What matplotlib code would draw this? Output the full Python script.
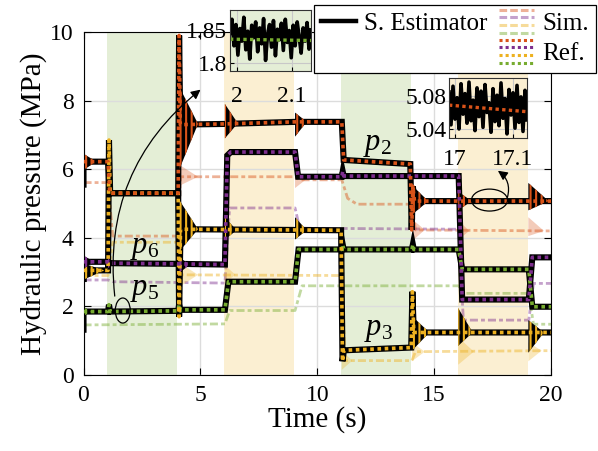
import numpy as np
import matplotlib
matplotlib.use("Agg")
import matplotlib.pyplot as plt
from matplotlib.patches import Ellipse, FancyArrowPatch
from matplotlib.legend_handler import HandlerBase
from matplotlib.lines import Line2D

plt.rcParams["font.family"] = "Liberation Serif"
plt.rcParams["mathtext.fontset"] = "custom"
plt.rcParams["mathtext.it"] = "Liberation Serif:italic"
plt.rcParams["mathtext.rm"] = "Liberation Serif"
plt.rcParams["hatch.linewidth"] = 1.5

# ===================== DATA =====================
C2, C3, C5, C6 = "#D95319", "#EDB120", "#77AC30", "#7E2F8E"
GREEN_BG, YELLOW_BG = "#e4eed6", "#fbefd2"

green_spans = [(1, 4), (11, 14)]
yellow_spans = [(6, 9), (16, 19)]

# reference (and estimator) paths
p2_t = [0, 1.05, 1.12, 4.05, 4.09, 4.14, 6.05, 9.05, 11.05, 11.13, 13.98, 14.04, 14.09, 14.16, 20]
p2_v = [6.22, 6.22, 5.30, 5.30, 9.90, 7.30, 7.32, 7.38, 7.38, 6.27, 6.15, 4.23, 5.50, 5.07, 5.07]
p3_t = [0, 1.05, 1.09, 1.14, 4.05, 4.09, 4.15, 11.02, 11.08, 11.14, 14.02, 14.07, 14.13, 20]
p3_v = [3.05, 3.05, 6.85, 5.30, 5.30, 1.70, 4.25, 4.22, 0.40, 0.72, 0.80, 2.43, 1.24, 1.24]
p5_t = [0, 1.05, 1.09, 1.14, 4.05, 4.09, 4.14, 6.05, 6.2, 9.05, 9.2, 11.05, 11.09, 11.13,
        14.05, 14.09, 14.13, 16.05, 16.2, 19.05, 19.2, 20]
p5_v = [1.85, 1.85, 2.05, 1.85, 1.87, 2.05, 1.90, 1.90, 2.72, 2.72, 3.66, 3.66, 3.80, 3.66,
        3.66, 3.80, 3.66, 3.66, 3.08, 3.08, 1.99, 1.99]
p6_t = [0, 1.05, 1.15, 4.05, 6.05, 6.15, 6.3, 9.05, 9.18, 11.05, 11.09, 11.13, 16.05, 16.2, 19.05, 19.2, 20]
p6_v = [3.30, 3.30, 3.26, 3.24, 3.22, 6.40, 6.50, 6.50, 5.78, 5.78, 5.93, 5.80, 5.80, 2.20, 2.20, 3.43, 3.43]

# estimator start values (t = 0)
est0 = {"p2": 5.55, "p3": 2.80, "p5": 1.32, "p6": 2.80}

# oscillation bursts: (t0, t1, high, low, settle)
p2_osc = [(0.0, 0.55, 6.45, 5.98, 6.22), (4.1, 4.9, 8.4, 6.0, 7.32), (6.05, 6.6, 7.9, 6.9, 7.34),
          (9.05, 9.55, 7.65, 6.95, 7.38), (14.1, 14.75, 5.5, 4.7, 5.07),
          (16.03, 16.6, 5.35, 4.8, 5.07), (19.03, 19.9, 5.6, 4.8, 5.07)]
p3_osc = [(0.0, 0.9, 3.25, 2.78, 3.05), (4.1, 4.9, 5.1, 3.6, 4.25), (6.05, 6.55, 4.6, 3.95, 4.22),
          (9.05, 9.55, 4.6, 3.95, 4.22), (14.08, 14.8, 1.7, 0.73, 1.24),
          (16.03, 16.65, 1.95, 0.85, 1.24), (19.03, 19.7, 1.6, 0.65, 1.24)]
p5_osc = [(0.0, 0.35, 1.98, 1.72, 1.85), (4.05, 4.4, 2.02, 1.78, 1.90)]
p6_osc = [(0.0, 0.45, 3.48, 3.10, 3.30), (1.05, 1.4, 3.40, 3.12, 3.26), (4.05, 4.55, 3.45, 2.95, 3.22)]

# simulation paths
p2s_t = [0, 1.05, 1.25, 4.05, 4.15, 9.05, 9.25, 11.05, 11.3, 11.7, 14.05, 14.2, 20]
p2s_v = [5.61, 5.61, 4.05, 4.05, 5.78, 5.78, 5.69, 5.69, 5.15, 4.98, 4.98, 4.23, 4.20]
p3s_t = [0, 1.05, 1.25, 4.05, 4.15, 11.05, 11.2, 14.05, 14.2, 20]
p3s_v = [2.90, 2.90, 3.87, 3.87, 2.92, 2.90, 0.42, 0.42, 0.68, 0.71]
p5s_t = [0, 6.05, 6.25, 9.05, 9.35, 16.05, 16.25, 19.05, 19.25, 20]
p5s_v = [1.46, 1.49, 1.88, 1.88, 2.60, 2.60, 2.38, 2.38, 1.48, 1.48]
p6s_t = [0, 1.05, 1.25, 6.05, 6.25, 9.05, 9.25, 16.05, 16.25, 19.05, 19.25, 20]
p6s_v = [2.77, 2.77, 2.72, 2.68, 4.87, 4.87, 4.28, 4.25, 1.60, 1.60, 2.67, 2.67]

p2s_osc = [(4.05, 4.9, 6.15, 5.5, 5.78), (9.05, 9.5, 6.0, 5.45, 5.69), (14.05, 14.6, 4.55, 3.9, 4.23),
           (16.05, 16.5, 4.5, 3.95, 4.2), (19.03, 19.7, 4.6, 4.05, 4.2)]
p3s_osc = [(4.05, 4.9, 3.3, 2.55, 2.92), (6.05, 6.5, 3.2, 2.7, 2.92), (11.05, 11.5, 0.7, 0.15, 0.42),
           (14.05, 14.6, 0.95, 0.4, 0.68), (16.03, 16.7, 1.1, 0.3, 0.68), (19.03, 19.6, 0.95, 0.4, 0.71)]

# zoomed insets
ins1_x = (1.987, 2.135)
ins1_y = (1.788, 1.880)
ins1_ref = [1.836, 1.834]
ins1_est = [1.845, 1.866, 1.826, 1.858, 1.812, 1.852, 1.833, 1.869, 1.820, 1.848, 1.806, 1.857,
            1.838, 1.862, 1.817, 1.853, 1.829, 1.867, 1.804, 1.843, 1.858, 1.824, 1.864, 1.811,
            1.851, 1.835, 1.860, 1.819, 1.866, 1.831, 1.849, 1.808, 1.857, 1.826, 1.862, 1.840,
            1.815, 1.853, 1.833, 1.861, 1.821, 1.850]
ins2_x = (16.99, 17.124)
ins2_y = (5.029, 5.102)
ins2_ref = [5.069, 5.061]
ins2_est = [5.085, 5.045, 5.092, 5.052, 5.078, 5.040, 5.095, 5.058, 5.083, 5.047, 5.097, 5.050,
            5.075, 5.038, 5.090, 5.055, 5.086, 5.042, 5.094, 5.060, 5.072, 5.036, 5.089, 5.049,
            5.081, 5.044, 5.096, 5.053, 5.077, 5.034, 5.088, 5.057, 5.084, 5.041, 5.093, 5.048,
            5.079, 5.037, 5.087, 5.051]
# =================================================

SIM_LS = (0, (2.9, 1.1, 1.4, 1.1))


class StackedLines(HandlerBase):
    def __init__(self, colors, ls, lw, alpha=1.0):
        super().__init__()
        self.colors, self.ls, self.lw, self.alpha = colors, ls, lw, alpha

    def create_artists(self, legend, orig_handle, xdescent, ydescent,
                       width, height, fontsize, trans):
        out = []
        n = len(self.colors)
        for i, c in enumerate(self.colors):
            y = height * (1.15 - 1.3 * i / (n - 1)) - ydescent
            out.append(Line2D([-xdescent, width - xdescent], [y, y], color=c, ls=self.ls,
                              lw=self.lw, alpha=self.alpha, transform=trans))
        return out


def burst_shape(t0, t1, hi, lo, mid):
    # arrow-head like envelope: quick first decay, then slow settle
    ta = t0 + 0.3 * (t1 - t0)
    tb = t0 + 0.65 * (t1 - t0)
    xs = [t0, ta, tb, t1, tb, ta, t0]
    ys = [hi, mid + 0.7 * (hi - mid), mid + 0.35 * (hi - mid), mid,
          mid - 0.35 * (mid - lo), mid - 0.7 * (mid - lo), lo]
    return xs, ys


def draw_osc(ax, bursts, color, hatch=True):
    for b in bursts:
        xs, ys = burst_shape(*b)
        if hatch:
            ax.fill(xs, ys, facecolor="k", edgecolor=color, hatch="|||", lw=0, zorder=3.5)
        else:
            ax.fill(xs, ys, facecolor=color, alpha=0.3, lw=0, zorder=2)


fig = plt.figure(figsize=(5.98, 4.51), dpi=100)
ax = fig.add_axes([83.5 / 598, 76 / 451, 467.5 / 598, 343 / 451])

for a, b in green_spans:
    ax.axvspan(a, b, color=GREEN_BG, lw=0, zorder=0)
for a, b in yellow_spans:
    ax.axvspan(a, b, color=YELLOW_BG, lw=0, zorder=0)

# simulation (light dash-dot)
for t, v, c in [(p2s_t, p2s_v, C2), (p6s_t, p6s_v, C6), (p3s_t, p3s_v, C3), (p5s_t, p5s_v, C5)]:
    ax.plot(t, v, color=c, alpha=0.45, lw=2, ls=SIM_LS, zorder=2)
draw_osc(ax, p2s_osc, C2, hatch=False)
draw_osc(ax, p3s_osc, C3, hatch=False)

# estimator + reference
series = [("p5", p5_t, p5_v, C5, p5_osc), ("p3", p3_t, p3_v, C3, p3_osc),
          ("p6", p6_t, p6_v, C6, p6_osc), ("p2", p2_t, p2_v, C2, p2_osc)]
for name, t, v, c, osc in series:
    ax.plot([0] + t, [est0[name]] + v, color="k", lw=4.4, zorder=3,
            solid_joinstyle="miter")
    draw_osc(ax, osc, c)
    ax.plot(t, v, color=c, lw=2.6, ls=(0, (1, 1)), zorder=4)

ax.set_xlim(0, 20)
ax.set_ylim(0, 10)
ax.set_xticks([0, 5, 10, 15, 20])
ax.set_yticks([0, 2, 4, 6, 8, 10])
ax.grid(True, color="#dcdcdc", lw=1)
ax.tick_params(direction="in", top=True, right=True, labelsize=17, length=5, pad=7)
ax.set_xlabel("Time (s)", fontsize=21, labelpad=0)
ax.set_ylabel("Hydraulic pressure (MPa)", fontsize=21, labelpad=2)

# labels
ax.text(1.99, 3.56, "$p_6$", fontsize=22)
ax.text(1.99, 2.33, "$p_5$", fontsize=22)
ax.text(11.94, 6.56, "$p_2$", fontsize=22)
ax.text(12.0, 1.17, "$p_3$", fontsize=22)

# callouts
ax.add_patch(Ellipse((1.68, 1.88), 0.64, 0.73, fill=False, lw=0.9, ec="k", zorder=6))
ax.add_patch(Ellipse((17.37, 5.10), 1.54, 0.64, fill=False, lw=0.9, ec="k", zorder=6))
ax.add_patch(FancyArrowPatch((1.35, 2.22), (5.1, 8.37), connectionstyle="arc3,rad=-0.28",
                             arrowstyle="-|>", mutation_scale=14, lw=0.9, color="k", zorder=6))
ax.add_patch(FancyArrowPatch((18.1, 5.10), (17.63, 6.0), connectionstyle="arc3,rad=0.4",
                             arrowstyle="-|>", mutation_scale=14, lw=0.9, color="k", zorder=6))

# legend
h_est = Line2D([], [], color="k", lw=3.2)
h_blank = Line2D([], [], color="none")
h_sim = Line2D([], [])
h_ref = Line2D([], [])
leg = ax.legend([h_est, h_blank, h_sim, h_ref], ["S. Estimator", "", "Sim.", "Ref."],
                ncol=2, loc="upper right", bbox_to_anchor=(596 / 598, 1 - 5 / 451),
                bbox_transform=fig.transFigure, borderaxespad=0, fontsize=18, frameon=True,
                fancybox=False, edgecolor="k", framealpha=1, borderpad=0.3, labelspacing=0.3,
                handlelength=1.4, handletextpad=0.3, columnspacing=0.5,
                handler_map={h_sim: StackedLines([C2, C6, C3, C5], (0, (2.5, 1)), 2.2, 0.45),
                             h_ref: StackedLines([C2, C6, C3, C5], (0, (1, 1)), 2.2)})
leg.get_frame().set_linewidth(0.9)
leg.set_zorder(10)

# insets
for rect, xl, yl, ref, est, col, bg, xt, yt, xpad in [
        ([230 / 598, 1 - 71 / 451, 81 / 598, 61 / 451], ins1_x, ins1_y, ins1_ref, ins1_est,
         C5, GREEN_BG, [2, 2.1], [1.8, 1.85], 11),
        ([449 / 598, 1 - 138 / 451, 78 / 598, 60 / 451], ins2_x, ins2_y, ins2_ref, ins2_est,
         C2, YELLOW_BG, [17, 17.1], [5.04, 5.08], 8)]:
    ia = fig.add_axes(rect)
    ia.set_facecolor(bg)
    tt = np.linspace(xl[0], xl[1], len(est))
    ia.plot(tt, est, color="k", lw=2.6)
    ia.plot(xl, ref, color=col, lw=2.4, ls=(0, (1, 1)))
    ia.set_xlim(*xl)
    ia.set_ylim(*yl)
    ia.set_xticks(xt)
    ia.set_yticks(yt)
    ia.set_xticklabels([f"{x:g}" for x in xt])
    ia.set_yticklabels([f"{y:g}" for y in yt])
    ia.grid(True, color="#c8c8c8", lw=0.8)
    ia.tick_params(direction="in", labelsize=17, length=3, pad=2)
    ia.tick_params(axis="x", pad=xpad)
    for s in ia.spines.values():
        s.set_color("#333333")
    ia.set_zorder(11)

fig.savefig("out.png", dpi=100)
